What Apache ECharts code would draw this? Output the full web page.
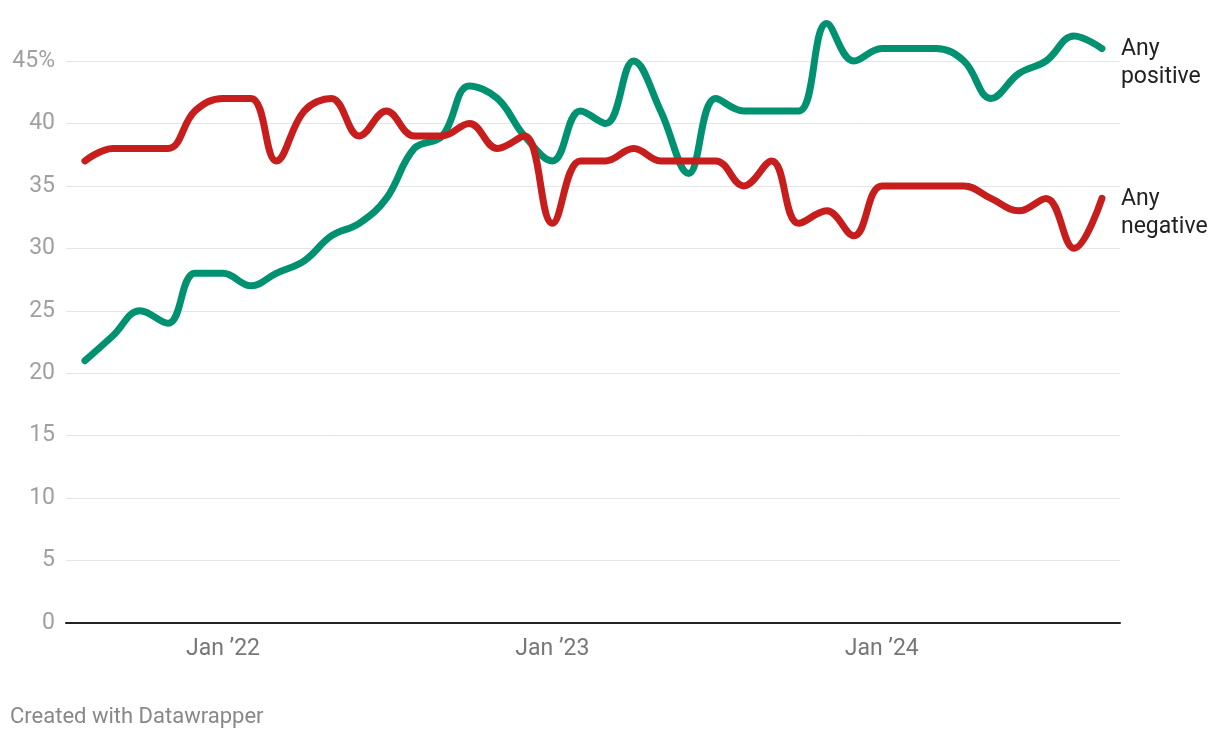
<!DOCTYPE html>
<html>
<head>
<meta charset="utf-8">
<script src="https://cdn.jsdelivr.net/npm/echarts@6/dist/echarts.min.js"></script>
<style>
  html, body { margin: 0; padding: 0; background: #fff; }
  #chart { width: 1220px; height: 738px; }
</style>
</head>
<body>
<div id="chart"></div>
<script>
// 数据：月度调查
const months = [
  '2021-08-01', '2021-09-01', '2021-10-01', '2021-11-01', '2021-12-01',
  '2022-01-01', '2022-02-01', '2022-03-01', '2022-04-01', '2022-05-01', '2022-06-01',
  '2022-07-01', '2022-08-01', '2022-09-01', '2022-10-01', '2022-11-01', '2022-12-01',
  '2023-01-01', '2023-02-01', '2023-03-01', '2023-04-01', '2023-05-01', '2023-06-01',
  '2023-07-01', '2023-08-01', '2023-09-01', '2023-10-01', '2023-11-01', '2023-12-01',
  '2024-01-01', '2024-02-01', '2024-03-01', '2024-04-01', '2024-05-01', '2024-06-01',
  '2024-07-01', '2024-08-01', '2024-09-01'
];
const anyPositive = [21, 23, 25, 24, 28, 28, 27, 28, 29, 31, 32, 34, 38, 39, 43, 42, 39,
  37, 41, 40, 45, 41, 36, 42, 41, 41, 41, 48, 45, 46, 46, 46, 45, 42, 44, 45, 47, 46];
const anyNegative = [37, 38, 38, 38, 41, 42, 42, 37, 41, 42, 39, 41, 39, 39, 40, 38, 39,
  32, 37, 37, 38, 37, 37, 37, 35, 37, 32, 33, 31, 35, 35, 35, 35, 34, 33, 34, 30, 34];
const tickDates = ['2022-01-01', '2023-01-01', '2024-01-01'];
const tickLabels = ['Jan ’22', 'Jan ’23', 'Jan ’24'];

const font = 'Roboto, sans-serif';
const ts = d => Date.parse(d + 'T00:00:00Z');
let myChart = echarts.init(document.getElementById('chart'));

function makeSeries(name, values, color) {
  return {
    name: name,
    type: 'line',
    data: months.map((m, i) => [ts(m), values[i]]),
    showSymbol: false,
    smooth: 0.4,
    clip: false,
    lineStyle: { color: color, width: 7, cap: 'round', join: 'round' },
    itemStyle: { color: color },
    endLabel: {
      show: true,
      formatter: p => p.seriesName.replace(' ', '\n'),
      color: '#222',
      fontFamily: font,
      fontSize: 23,
      lineHeight: 28,
      distance: 19,
      offset: [0, 15]
    },
    emphasis: { disabled: true }
  };
}

myChart.setOption({
  animation: false,
  grid: { left: 66, right: 100, top: 61, bottom: 115 },
  xAxis: {
    type: 'value',
    min: ts('2021-07-11'),
    max: ts('2024-09-21'),
    axisLine: { show: true, lineStyle: { color: '#222', width: 2 } },
    axisTick: { show: false },
    splitLine: { show: false },
    axisLabel: {
      customValues: tickDates.map(ts),
      formatter: function (val) {
        const i = tickDates.findIndex(d => ts(d) === val);
        return i >= 0 ? tickLabels[i] : '';
      },
      color: '#777',
      fontFamily: font,
      fontSize: 23,
      margin: 15
    }
  },
  yAxis: {
    type: 'value',
    min: 0,
    max: 45,
    interval: 5,
    axisLine: { show: false },
    axisTick: { show: false },
    splitLine: { lineStyle: { color: '#e5e5e5', width: 1 } },
    axisLabel: {
      formatter: v => v === 45 ? v + '%' : String(v),
      color: '#a0a0a0',
      fontFamily: font,
      fontSize: 23,
      margin: 11
    }
  },
  graphic: [{
    type: 'text',
    left: 10,
    top: 706,
    style: { text: 'Created with Datawrapper', fill: '#888', font: '22px Roboto, sans-serif' }
  }],
  series: [
    makeSeries('Any positive', anyPositive, '#009270'),
    makeSeries('Any negative', anyNegative, '#c71e1d')
  ]
});
</script>
</body>
</html>
